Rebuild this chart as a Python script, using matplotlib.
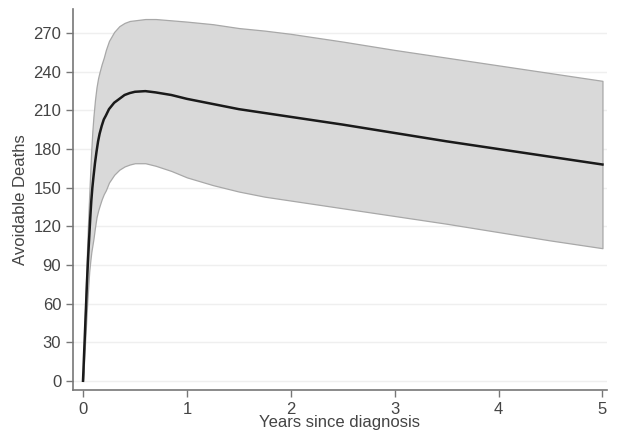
import matplotlib
matplotlib.use("Agg")
import matplotlib.pyplot as plt

plt.rcParams['font.family'] = ['Liberation Sans', 'DejaVu Sans']

years = [0, 0.01, 0.02, 0.03, 0.04, 0.05, 0.06, 0.07, 0.08, 0.09, 0.1, 0.115,
         0.13, 0.145, 0.16, 0.18, 0.2, 0.22, 0.25, 0.3, 0.35, 0.4, 0.45, 0.5, 0.6,
         0.7, 0.85, 1.0, 1.25, 1.5, 1.75, 2.0, 2.5, 3.0, 3.5, 4.0, 4.5, 5.0]
deaths = [0, 20, 40, 60, 80, 97, 112, 127, 140, 150, 158, 169,
          178, 186, 192, 198, 203, 206, 211, 216, 219, 222, 223.5, 224.5, 225,
          224, 222, 219, 215, 211, 208, 205, 199, 192.5, 186, 180, 174, 168]
upper = [0, 28, 55, 80, 105, 126, 145, 163, 180, 194, 205, 218,
         228, 235, 240, 246, 251, 257, 264, 271, 275.5, 278, 279.5, 280, 281,
         281, 280, 279, 277, 274, 272, 269.5, 263.5, 257, 251, 245, 239, 233]
lower = [0, 15, 30, 45, 60, 73, 85, 93, 100, 105, 110, 119,
         127, 132, 136, 141, 145, 148, 154, 160, 164, 166.5, 168, 169, 169,
         167, 163, 158, 152, 147, 143, 140, 134, 128, 122, 115.5, 109, 103]
yticks = [0, 30, 60, 90, 120, 150, 180, 210, 240, 270]
xticks = [0, 1, 2, 3, 4, 5]

fig = plt.figure(figsize=(6.19, 4.37), dpi=100)
ax = fig.add_axes([0.118, 0.108, 0.862, 0.872])

for y in yticks:
    ax.axhline(y, color='#efefef', linewidth=1, zorder=0)

ax.fill_between(years, lower, upper, facecolor='#d9d9d9', edgecolor='#a8a8a8',
                linewidth=0.9, zorder=1)
ax.plot(years, deaths, color='#1a1a1a', linewidth=1.8, zorder=2)

ax.set_xlim(-0.096, 5.04)
ax.set_ylim(-7, 289)
ax.set_xticks(xticks)
ax.set_yticks(yticks)
ax.tick_params(labelsize=12, length=5, width=1)
ax.tick_params(axis='x', colors='#777777', labelcolor='#444444')
ax.tick_params(axis='y', colors='#777777', labelcolor='#444444')
for s in ['top', 'right']:
    ax.spines[s].set_visible(False)
for s in ['left', 'bottom']:
    ax.spines[s].set_color('#777777')
    ax.spines[s].set_linewidth(1.2)

ax.set_xlabel('Years since diagnosis', fontsize=12, color='#444444', labelpad=-1)
ax.set_ylabel('Avoidable Deaths', fontsize=12, color='#444444', labelpad=4)

fig.savefig('out.png', dpi=100)
